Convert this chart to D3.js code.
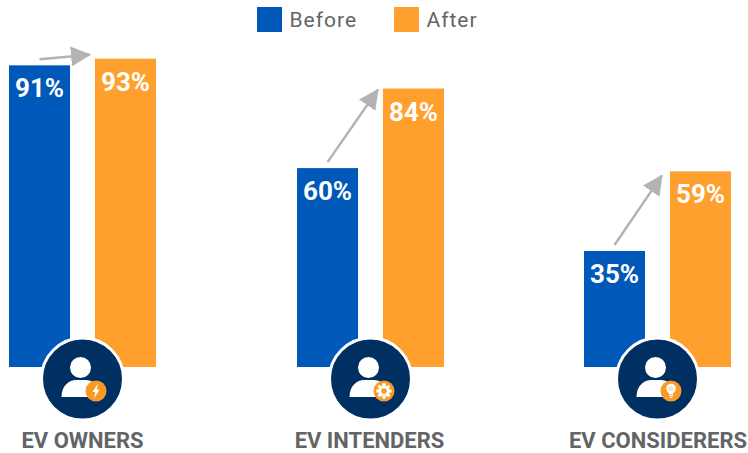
<!DOCTYPE html>
<html>
<head>
<meta charset="utf-8">
<script src="https://cdn.jsdelivr.net/npm/d3@7"></script>
<style>
    html, body { margin: 0; padding: 0; background: #fff; }
    svg { display: block; }
    text { font-family: Roboto, sans-serif; }
</style>
</head>
<body>
<svg id="chart" width="748" height="453"></svg>
<script>
const categories = ['EV OWNERS', 'EV INTENDERS', 'EV CONSIDERERS'];
const seriesNames = ['Before', 'After'];
const before = [91, 60, 35];
const after = [93, 84, 59];
const badges = ['bolt', 'gear', 'bulb'];

const colors = {Before: '#0059b8', After: '#ff9f2d'};
const navy = '#002f62', grey = '#636466', arrowGrey = '#b3b3b3', badgeOrange = '#f99a26';

const svg = d3.select('#chart');

const x = d3.scalePoint().domain(categories).range([83, 658]);
const inner = d3.scaleBand().domain(seriesNames).range([-74, 73]).paddingInner(25 / 86);
const y = d3.scaleLinear().domain([0, 100]).range([367, 35.5]);

const rows = categories.map((c, i) => ({
    category: c,
    Before: before[i],
    After: after[i],
    badge: badges[i],
    tipY: [-4, 1, 4][i],
    tipX: [-5, -5, -8][i],
    labelShift: [-0.5, -1.5, 0][i]
}));

// arrowhead
svg.append('defs').append('marker')
    .attr('id', 'head')
    .attr('viewBox', '0 0 10 10')
    .attr('refX', 9.5).attr('refY', 5)
    .attr('markerUnits', 'userSpaceOnUse')
    .attr('markerWidth', 20).attr('markerHeight', 20)
    .attr('orient', 'auto')
    .append('path')
    .attr('d', 'M0 0 L10 5 L0 10 Z')
    .attr('fill', arrowGrey);

// legend
const legend = svg.append('g');
seriesNames.forEach((name, i) => {
    let lx = [257, 394][i];
    legend.append('rect').attr('x', lx).attr('y', 7).attr('width', 25).attr('height', 25).attr('fill', colors[name]);
    legend.append('text').attr('x', lx + 32.5).attr('y', 27)
        .attr('font-size', 21).attr('letter-spacing', 1).attr('fill', grey).text(name);
});

const groups = svg.selectAll('g.group')
    .data(rows)
    .enter().append('g')
    .attr('class', 'group')
    .attr('transform', d => `translate(${Math.round(x(d.category))},0)`);

groups.selectAll('rect.bar')
    .data(d => seriesNames.map(name => ({name, value: d[name]})))
    .enter().append('rect')
    .attr('class', 'bar')
    .attr('x', d => inner(d.name))
    .attr('y', d => y(d.value))
    .attr('width', inner.bandwidth())
    .attr('height', d => y(0) - y(d.value))
    .attr('fill', d => colors[d.name]);

groups.selectAll('text.value')
    .data(d => seriesNames.map(name => ({name, value: d[name]})))
    .enter().append('text')
    .attr('class', 'value')
    .attr('x', d => inner(d.name) + inner.bandwidth() / 2)
    .attr('y', d => y(d.value) + 32)
    .attr('text-anchor', 'middle')
    .attr('font-size', 26).attr('font-weight', 700).attr('fill', '#fff')
    .text(d => d.value + '%');

groups.append('line')
    .attr('x1', inner('Before') + 30.5)
    .attr('y1', d => y(d.Before) - 6)
    .attr('x2', d => inner('After') + d.tipX)
    .attr('y2', d => y(d.After) + d.tipY)
    .attr('stroke', arrowGrey).attr('stroke-width', 2.5)
    .attr('marker-end', 'url(#head)');

// round icon
const icon = groups.append('g').attr('transform', 'translate(-0.5,379)');
icon.append('circle').attr('r', 41).attr('fill', navy).attr('stroke', '#fff').attr('stroke-width', 3);
icon.append('circle').attr('cx', -2).attr('cy', -11.5).attr('r', 10.5).attr('fill', '#fff');
icon.append('path')
    .attr('d', 'M-21 18 C-21 7 -14 1 -6 1 L3 1 C11 1 17 7 17 18 Z')
    .attr('fill', '#fff');
const badge = icon.append('g').attr('transform', 'translate(13.5,12)');
badge.append('circle').attr('r', 10.5).attr('fill', badgeOrange);

badge.filter(d => d.badge === 'bolt').append('path')
    .attr('d', 'M2 -7.5 L-3.5 1 L-0.6 1 L-2 7.5 L3.5 -1.6 L0.6 -1.6 Z')
    .attr('fill', '#fff');

const gear = badge.filter(d => d.badge === 'gear').append('g');
d3.range(8).forEach(i => {
    gear.append('rect')
        .attr('x', -1.4).attr('y', -7.5).attr('width', 2.8).attr('height', 15)
        .attr('fill', '#fff')
        .attr('transform', `rotate(${i * 45})`);
});
gear.append('circle').attr('r', 5.2).attr('fill', '#fff');
gear.append('circle').attr('r', 2.8).attr('fill', badgeOrange);

const bulb = badge.filter(d => d.badge === 'bulb').append('g');
bulb.append('circle').attr('cy', -2.5).attr('r', 4.8).attr('fill', '#fff');
bulb.append('circle').attr('cy', -2.5).attr('r', 2.6).attr('fill', '#fde3bf');
bulb.append('path').attr('d', 'M-2.5 1.5 L2.5 1.5 L2 3.5 L-2 3.5 Z').attr('fill', '#fff');
bulb.append('rect').attr('x', -2).attr('y', 4.2).attr('width', 4).attr('height', 1).attr('fill', '#fff');
bulb.append('rect').attr('x', -1.3).attr('y', 5.9).attr('width', 2.6).attr('height', 1).attr('fill', '#fff');

groups.append('text')
    .attr('x', d => d.labelShift)
    .attr('y', 448)
    .attr('text-anchor', 'middle')
    .attr('font-size', 22).attr('font-weight', 700).attr('fill', grey)
    .text(d => d.category);
</script>
</body>
</html>
